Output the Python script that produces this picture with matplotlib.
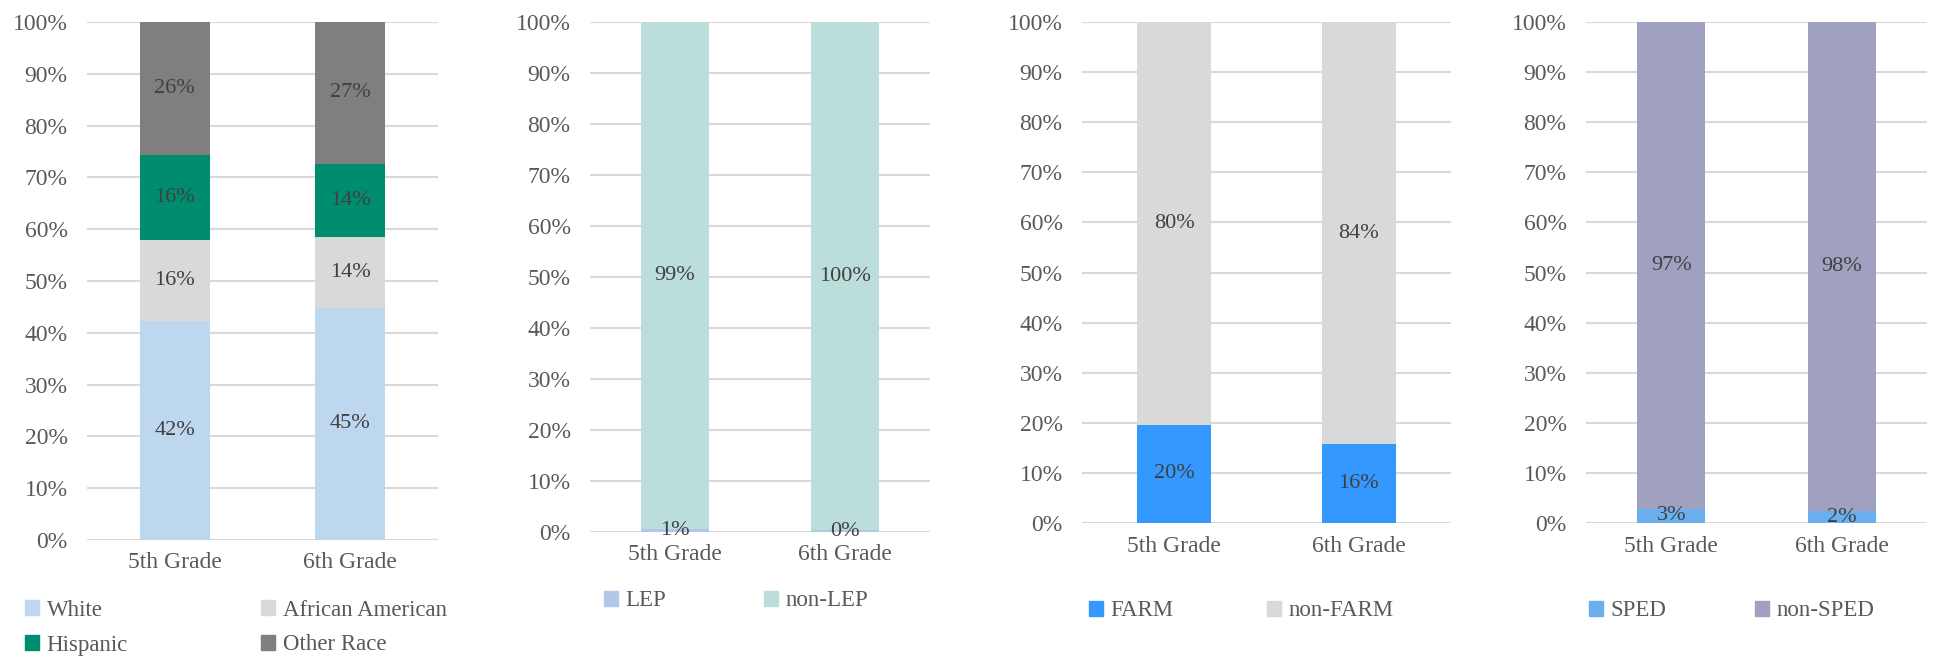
import matplotlib
matplotlib.use('Agg')
import matplotlib.pyplot as plt
from matplotlib.patches import Patch
from matplotlib.ticker import PercentFormatter

plt.rcParams['font.family'] = ['Liberation Serif', 'DejaVu Serif']

grades = ['5th Grade', '6th Grade']

# race breakdown (% of students)
white = [42.3, 44.8]
african_american = [15.7, 13.6]
hispanic = [16.3, 14.2]
other_race = [25.7, 27.4]

lep = [0.6, 0.3]
non_lep = [99.4, 99.7]

farm = [19.6, 15.7]
non_farm = [80.4, 84.3]

sped = [2.8, 2.3]
non_sped = [97.2, 97.7]

W, H = 1936, 660
TICK_COLOR = '#595959'
LABEL_COLOR = '#404040'
GRID_COLOR = '#D9D9D9'


def px_axes(fig, x0, x1, y0, y1):
    return fig.add_axes([x0 / W, 1 - y1 / H, (x1 - x0) / W, (y1 - y0) / H])


def stacked(ax, series):
    bottoms = [0.0] * len(grades)
    xs = range(len(grades))
    for vals, color in series:
        bars = ax.bar(xs, vals, width=0.4, bottom=bottoms, color=color, linewidth=0, zorder=2)
        for rect, v in zip(bars, vals):
            ax.text(rect.get_x() + rect.get_width() / 2, rect.get_y() + v / 2, f'{v:.0f}%',
                    ha='center', va='center', fontsize=16, color=LABEL_COLOR, zorder=3)
        bottoms = [b + v for b, v in zip(bottoms, vals)]
    ax.set_xlim(-0.5, 1.5)
    ax.set_ylim(0, 100)
    ax.set_yticks(range(0, 101, 10))
    ax.yaxis.set_major_formatter(PercentFormatter(decimals=0))
    ax.set_xticks(list(xs))
    ax.set_xticklabels(grades, fontsize=17, color=TICK_COLOR)
    ax.tick_params(axis='y', labelsize=17, labelcolor=TICK_COLOR, length=0, pad=14)
    ax.tick_params(axis='x', length=0, pad=9)
    ax.grid(axis='y', color=GRID_COLOR, linewidth=1.5, zorder=0)
    ax.set_axisbelow(True)
    for s in ax.spines.values():
        s.set_visible(False)


def legend_item(fig, label, color, x, y):
    leg = fig.legend(handles=[Patch(color=color, label=label)], loc='center left',
                     bbox_to_anchor=(x / W, 1 - y / H), frameon=False, borderpad=0,
                     borderaxespad=0, handlelength=0.6, handleheight=0.6,
                     handletextpad=0.35, fontsize=16.5)
    for t in leg.get_texts():
        t.set_color(TICK_COLOR)


fig = plt.figure(figsize=(W / 100, H / 100), dpi=100)

ax1 = px_axes(fig, 87, 438, 22, 540)
stacked(ax1, [(white, '#BDD7EE'), (african_american, '#D9D9D9'),
              (hispanic, '#008C6E'), (other_race, '#7F7F7F')])
legend_item(fig, 'White', '#BDD7EE', 25, 610)
legend_item(fig, 'African American', '#D9D9D9', 261, 610)
legend_item(fig, 'Hispanic', '#008C6E', 25, 645)
legend_item(fig, 'Other Race', '#7F7F7F', 261, 645)

ax2 = px_axes(fig, 590, 930, 22, 532)
stacked(ax2, [(lep, '#B4C7E7'), (non_lep, '#BCDEDA')])
legend_item(fig, 'LEP', '#B4C7E7', 604, 601)
legend_item(fig, 'non-LEP', '#BCDEDA', 764, 601)

ax3 = px_axes(fig, 1082, 1451, 22, 523)
stacked(ax3, [(farm, '#3399FF'), (non_farm, '#D9D9D9')])
legend_item(fig, 'FARM', '#3399FF', 1089, 611)
legend_item(fig, 'non-FARM', '#D9D9D9', 1267, 611)

ax4 = px_axes(fig, 1586, 1927, 22, 523)
stacked(ax4, [(sped, '#6BB0EE'), (non_sped, '#A0A1C0')])
legend_item(fig, 'SPED', '#6BB0EE', 1589, 611)
legend_item(fig, 'non-SPED', '#A0A1C0', 1755, 611)

fig.savefig('out.png', dpi=100, facecolor='white')
